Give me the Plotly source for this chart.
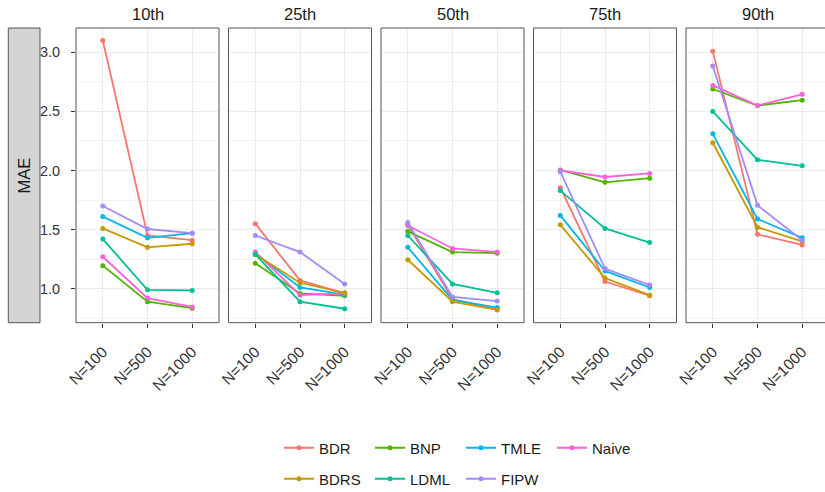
import plotly.graph_objects as go

# Sample sizes (x categories) and quantile panels
sizes = ["N=100", "N=500", "N=1000"]
panels = ["10th", "25th", "50th", "75th", "90th"]

# MAE per method, one list per panel (values at N=100, N=500, N=1000)
bdr = [[3.10, 1.45, 1.41], [1.55, 1.07, 0.96], [1.54, 0.91, 0.83], [1.855, 1.06, 0.94], [3.01, 1.46, 1.37]]
bdrs = [[1.51, 1.35, 1.38], [1.29, 1.05, 0.965], [1.245, 0.89, 0.82], [1.54, 1.09, 0.945], [2.235, 1.52, 1.40]]
bnp = [[1.195, 0.89, 0.835], [1.215, 0.96, 0.94], [1.485, 1.31, 1.30], [2.005, 1.90, 1.935], [2.69, 2.55, 2.595]]
ldml = [[1.42, 0.99, 0.985], [1.29, 0.89, 0.83], [1.45, 1.04, 0.965], [1.83, 1.51, 1.39], [2.50, 2.09, 2.04]]
tmle = [[1.61, 1.43, 1.47], [1.30, 1.01, 0.95], [1.35, 0.905, 0.84], [1.62, 1.15, 1.01], [2.31, 1.59, 1.43]]
fipw = [[1.70, 1.505, 1.47], [1.45, 1.31, 1.04], [1.56, 0.93, 0.895], [1.99, 1.17, 1.03], [2.885, 1.705, 1.41]]
naive = [[1.27, 0.92, 0.845], [1.31, 0.945, 0.96], [1.535, 1.34, 1.31], [2.00, 1.945, 1.975], [2.72, 2.55, 2.645]]

methods = ["BDR", "BDRS", "BNP", "LDML", "TMLE", "FIPW", "Naive"]
values = [bdr, bdrs, bnp, ldml, tmle, fipw, naive]
colors = ["#F8766D", "#C49A00", "#53B400", "#00C094", "#00B6EB", "#A58AFF", "#FB61D7"]
legend_row = ["legend", "legend2", "legend", "legend2", "legend", "legend2", "legend"]

W, H = 825, 492
FONT = "Liberation Sans, Arial, sans-serif"

# panel geometry in pixels
panel_left = [76, 228.5, 381, 533.5, 686]
panel_w = 143
px_per_unit = panel_w / 3.2
plot_top, plot_bottom = 28, 322.7
y_range = [0.712, 3.206]

fig = go.Figure()

# traces added in legend row order: BDR, BNP, TMLE, Naive / BDRS, LDML, FIPW
order = [0, 2, 4, 6, 1, 3, 5]
for k in order:
    for p in range(len(panels)):
        sfx = "" if p == 0 else str(p + 1)
        fig.add_trace(go.Scatter(
            x=sizes, y=values[k][p],
            mode="lines+markers",
            line=dict(color=colors[k], width=1.8),
            marker=dict(color=colors[k], size=5),
            name=methods[k],
            legendgroup=methods[k],
            legend=legend_row[k],
            showlegend=(p == 0),
            xaxis="x" + sfx, yaxis="y" + sfx,
        ))

ydom = [1 - plot_bottom / H, 1 - plot_top / H]
layout = dict(
    width=W, height=H,
    margin=dict(l=0, r=0, t=0, b=0, autoexpand=False),
    paper_bgcolor="white", plot_bgcolor="white",
    font=dict(family=FONT, color="#333333"),
    showlegend=True,
)

shapes = []
annotations = []
for p, name in enumerate(panels):
    sfx = "" if p == 0 else str(p + 1)
    left = panel_left[p]
    right = min(left + panel_w, W)
    x0 = -0.6
    x1 = x0 + (right - left) / px_per_unit
    layout["xaxis" + sfx] = dict(
        domain=[left / W, right / W], anchor="y" + sfx,
        type="category", range=[x0, x1],
        showgrid=True, gridcolor="#ebebeb", gridwidth=1.2,
        ticks="outside", ticklen=4, tickcolor="#333333", tickwidth=1,
        ticklabelstandoff=9,
        tickangle=-45, tickfont=dict(size=15.5, color="#333333", family=FONT),
        showline=False, zeroline=False, fixedrange=True,
    )
    layout["yaxis" + sfx] = dict(
        domain=ydom, anchor="x" + sfx, range=y_range,
        tick0=1.0, dtick=0.5, tickformat=".1f",
        showgrid=True, gridcolor="#ebebeb", gridwidth=1.2,
        minor=dict(dtick=0.25, tick0=0.75, showgrid=True, gridcolor="#f2f2f2", gridwidth=1),
        ticks="outside" if p == 0 else "", ticklen=4, tickcolor="#333333", tickwidth=1,
        ticklabelstandoff=8,
        showticklabels=(p == 0),
        tickfont=dict(size=14.5, color="#333333", family=FONT),
        showline=False, zeroline=False, fixedrange=True,
    )
    # panel border
    shapes.append(dict(type="rect", xref="paper", yref="paper",
                       x0=left / W, x1=(left + panel_w) / W,
                       y0=ydom[0], y1=ydom[1],
                       line=dict(color="#555555", width=1), fillcolor="rgba(0,0,0,0)",
                       layer="above"))
    # facet title
    annotations.append(dict(text=name, xref="paper", yref="paper",
                            x=(left + panel_w / 2) / W, y=1 - 14 / H,
                            xanchor="center", yanchor="middle", showarrow=False,
                            font=dict(size=16.5, color="#1a1a1a", family=FONT)))

# row strip on the left holding the measure name
shapes.append(dict(type="rect", xref="paper", yref="paper",
                   x0=8.3 / W, x1=40 / W, y0=ydom[0], y1=ydom[1],
                   line=dict(color="#555555", width=1), fillcolor="#d4d4d4", layer="below"))
annotations.append(dict(text="MAE", xref="paper", yref="paper",
                        x=24.2 / W, y=(ydom[0] + ydom[1]) / 2, textangle=-90,
                        xanchor="center", yanchor="middle", showarrow=False,
                        font=dict(size=16.5, color="#1a1a1a", family=FONT)))

legend_common = dict(orientation="h", xref="container", yref="container",
                     xanchor="left", yanchor="middle",
                     bgcolor="rgba(0,0,0,0)", borderwidth=0,
                     entrywidthmode="pixels", entrywidth=46,
                     font=dict(size=15, color="#1a1a1a", family=FONT))
layout["legend"] = dict(legend_common, x=279 / W, y=1 - 448 / H)
layout["legend2"] = dict(legend_common, x=279 / W, y=1 - 479 / H)
layout["shapes"] = shapes
layout["annotations"] = annotations

fig.update_layout(**layout)
fig.write_html("out.html")
